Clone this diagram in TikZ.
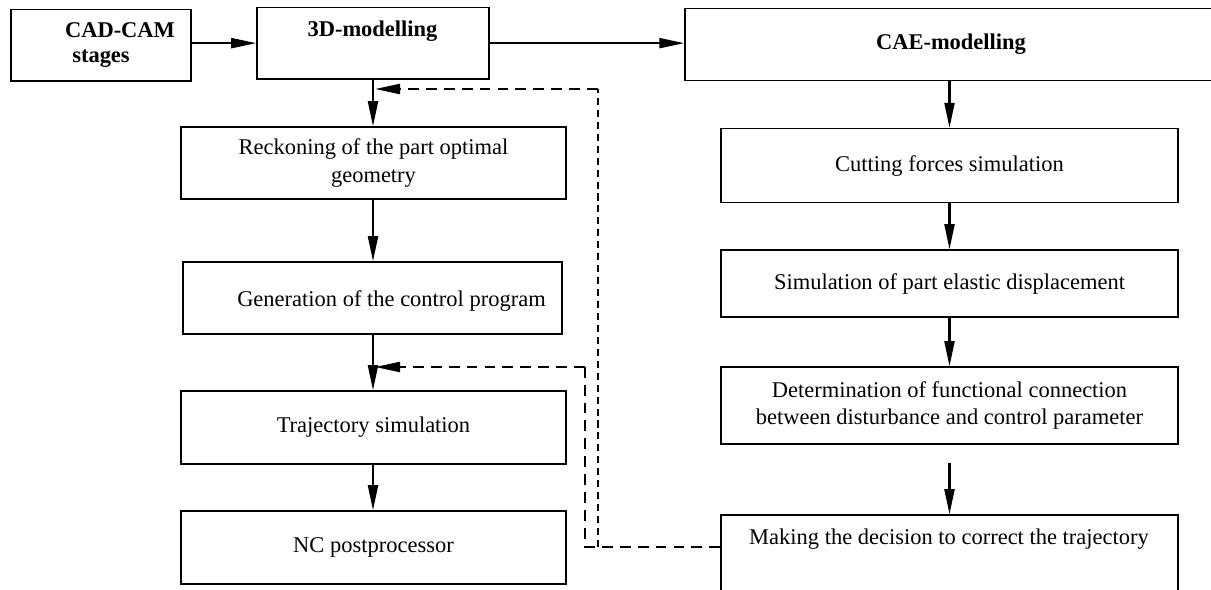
\documentclass[tikz,border=0pt]{standalone}
\usepackage{fontspec}
\setmainfont{Liberation Serif}
\usetikzlibrary{arrows.meta}
\begin{document}
\begin{tikzpicture}[x=0.02cm,y=-0.02cm,
  box/.style={draw, line width=0.9pt, inner sep=0pt, align=center,
    font=\fontsize{12.8}{15.9}\selectfont},
  lbl/.style={inner sep=0pt, align=center, font=\fontsize{12.8}{15.9}\selectfont},
  blbl/.style={inner sep=0pt, align=center, font=\fontsize{12.8}{15.9}\selectfont\bfseries},
  tipa/.style={-{Triangle[length=0.5cm,width=0.2cm]}},
  arr/.style={line width=1.2pt, tipa},
  dsh/.style={line width=1.3pt, dash pattern=on 6.2pt off 4pt},
  dshthin/.style={line width=0.8pt, dash pattern=on 4pt off 2.8pt}]
\useasboundingbox (0,0) rectangle (1211,590);
% boxes
\node[box, minimum width=3.606cm, minimum height=1.434cm] (cad) at (100.85,45.15) {};
\node[box, minimum width=4.64cm, minimum height=1.434cm] (mod3d) at (373,43.15) {};
\node[box, minimum width=10.64cm, minimum height=1.44cm] (cae) at (951,44.55) {\bfseries CAE-modelling};
\node[box, minimum width=7.7cm, minimum height=1.44cm] (reck) at (373.5,163) {Reckoning of the part optimal\\geometry};
\node[box, minimum width=7.58cm, minimum height=1.44cm] (gen) at (372.5,298) {};
\node[box, minimum width=7.7cm, minimum height=1.46cm] (traj) at (373.5,427.5) {Trajectory simulation};
\node[box, minimum width=7.7cm, minimum height=1.46cm] (nc) at (373.5,547.5) {NC postprocessor};
\node[box, minimum width=9.14cm, minimum height=1.48cm] (cut) at (949.5,165.6) {Cutting forces simulation};
\node[box, minimum width=9.14cm, minimum height=1.34cm] (sim) at (949.5,283.5) {Simulation of part elastic displacement};
\node[box, minimum width=9.14cm, minimum height=1.54cm] (det) at (949.5,405.5) {Determination of functional connection\\between disturbance and control parameter};
\node[box, minimum width=9.14cm, minimum height=1.6cm] (dec) at (949.5,555) {};
% off-centre texts
\node[blbl] (cadA) at (120,30) {CAD-CAM};
\node[blbl] (cadB) at (101,59) {stages};
\node[blbl] (modt) at (372.5,31.5) {3D-modelling};
\node[lbl] (gent) at (391.5,301) {Generation of the control program};
\node[lbl] (dect) at (949,539) {Making the decision to correct the trajectory};
% solid connectors
\draw[arr] (cad.east |- mod3d.west) -- (mod3d.west);
\draw[arr] (mod3d.east) -- (mod3d.east -| cae.west);
\draw[arr] (mod3d.south) -- (mod3d.south |- reck.north);
\draw[arr] (reck.south -| mod3d.south) -- (mod3d.south |- gen.north);
\draw[arr] (gen.south -| mod3d.south) -- (mod3d.south |- traj.north);
\draw[arr] (traj.south -| mod3d.south) -- (mod3d.south |- nc.north);
\draw[arr] (cut.north |- cae.south) -- (cut.north);
\draw[arr] (cut.south) -- (sim.north);
\draw[arr] (sim.south) -- (det.north);
\coordinate (dg) at (949.5,463);
\draw[arr] (dg) -- (dec.north);
% dashed feedback
\coordinate (fb) at (598,547);
\coordinate (fbi) at (585,547);
\coordinate (c1) at (598,89);
\coordinate (c2) at (585,367);
\draw[dsh] (dec.west |- fb) -- (fbi) -- (c2);
\draw[dsh, tipa, shorten >=1.2pt] (c2) -- (mod3d.south |- c2);
\draw[dshthin] (fb) -- (c1);
\draw[dsh, tipa, shorten >=1.2pt] (c1) -- (mod3d.south |- c1);
\end{tikzpicture}
\end{document}
